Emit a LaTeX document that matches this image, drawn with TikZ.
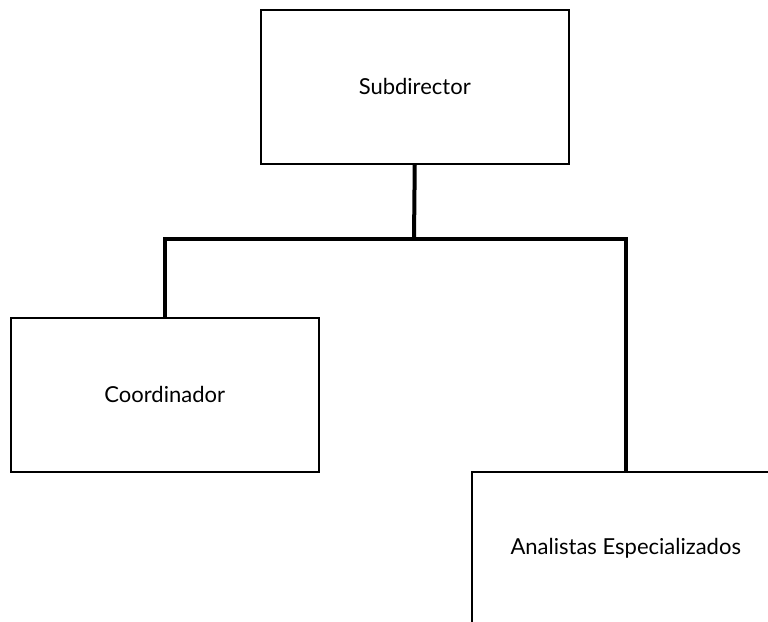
\documentclass[tikz,border=0pt]{standalone}
\usepackage{fontspec}
\setmainfont{Lato}
\begin{document}
\begin{tikzpicture}[x=1pt,y=-1pt,
  orgbox/.style={draw=black,line width=1.5pt,minimum width=308pt,minimum height=154pt,inner sep=0pt,anchor=north west,font=\fontsize{22}{26}\selectfont},
  link/.style={line width=4pt}]
\useasboundingbox (0,0) rectangle (768,621);
\clip (0,0) rectangle (768,621);
\node[orgbox] (sub) at (260,9) {Subdirector};
\node[orgbox] (coo) at (10,317) {Coordinador};
\node[orgbox] (ana) at (471,471) {Analistas Especializados};
\coordinate (j) at (414,239);
\draw[link] (sub.south) -- (j);
\draw[link] (coo.north) |- (j) -| (ana.north west -| 626,471);
\end{tikzpicture}
\end{document}
